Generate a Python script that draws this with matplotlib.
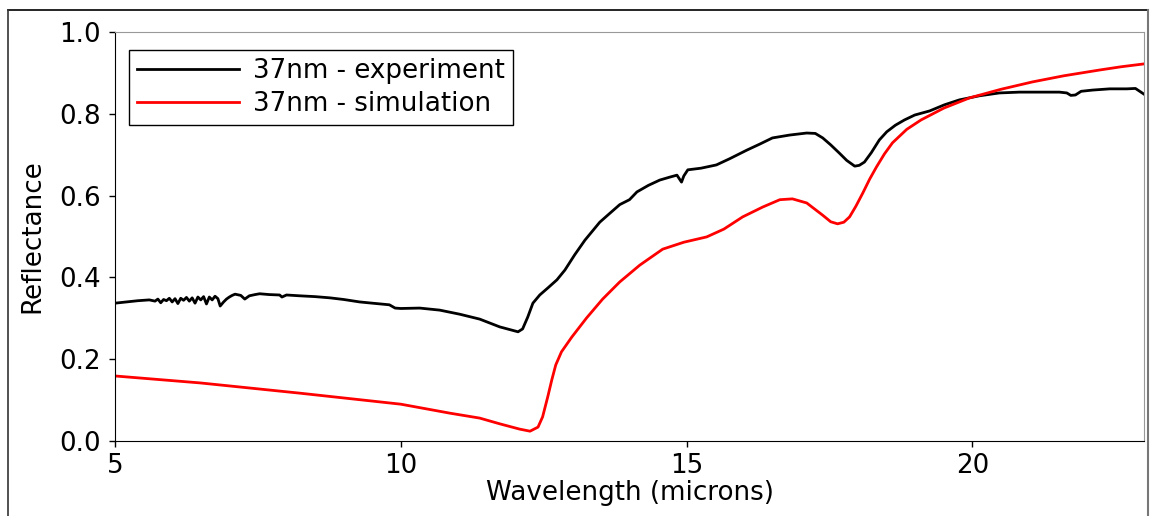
import matplotlib
matplotlib.use("Agg")
import matplotlib.pyplot as plt
from matplotlib.lines import Line2D

# Experiment (black)
exp_x = [5.0, 5.2, 5.4, 5.6, 5.7, 5.75, 5.8, 5.85, 5.9, 5.95, 6.0, 6.05, 6.1, 6.15, 6.2, 6.25, 6.3,
         6.35, 6.4, 6.45, 6.5, 6.55, 6.6, 6.65, 6.7, 6.75, 6.8, 6.84, 6.9, 6.95, 7.0, 7.05, 7.1, 7.2,
         7.27, 7.35, 7.45, 7.53, 7.7, 7.88, 7.92, 8.0, 8.23, 8.5, 8.76, 9.0, 9.28, 9.5, 9.8, 9.9,
         10.0, 10.33, 10.68, 11.03, 11.38, 11.73, 12.05, 12.13, 12.22, 12.31, 12.43, 12.57, 12.73,
         12.87, 13.04, 13.22, 13.48, 13.65, 13.83, 14.0, 14.13, 14.33, 14.53, 14.7, 14.83, 14.91,
         14.95, 15.02, 15.25, 15.52, 15.75, 16.05, 16.28, 16.5, 16.8, 17.1, 17.25, 17.38, 17.52,
         17.67, 17.8, 17.94, 18.02, 18.11, 18.23, 18.37, 18.5, 18.65, 18.81, 18.99, 19.25, 19.51,
         19.77, 20.12, 20.47, 20.82, 21.17, 21.52, 21.65, 21.72, 21.8, 21.9, 22.1, 22.4, 22.7, 22.85, 23.0]
exp_y = [0.337, 0.340, 0.343, 0.345, 0.342, 0.347, 0.338, 0.346, 0.343, 0.349, 0.340, 0.348, 0.336,
         0.349, 0.344, 0.351, 0.342, 0.350, 0.337, 0.352, 0.345, 0.353, 0.335, 0.352, 0.345, 0.354,
         0.348, 0.330, 0.340, 0.347, 0.352, 0.356, 0.359, 0.356, 0.347, 0.355, 0.358, 0.360, 0.358,
         0.357, 0.352, 0.357, 0.355, 0.353, 0.350, 0.346, 0.340, 0.337, 0.333, 0.325, 0.324, 0.325,
         0.320, 0.310, 0.298, 0.279, 0.267, 0.274, 0.303, 0.337, 0.357, 0.374, 0.394, 0.418, 0.455,
         0.491, 0.535, 0.556, 0.578, 0.590, 0.609, 0.625, 0.638, 0.645, 0.650, 0.633, 0.648, 0.663,
         0.667, 0.675, 0.690, 0.711, 0.726, 0.741, 0.748, 0.753, 0.752, 0.741, 0.724, 0.704, 0.686,
         0.672, 0.674, 0.682, 0.705, 0.736, 0.756, 0.772, 0.785, 0.797, 0.807, 0.822, 0.834, 0.844,
         0.851, 0.853, 0.853, 0.853, 0.851, 0.845, 0.846, 0.855, 0.858, 0.861, 0.861, 0.862, 0.848]

# Simulation (red)
sim_x = [5.0, 6.49, 8.23, 10.0, 10.86, 11.38, 11.73, 12.08, 12.26, 12.4, 12.48, 12.57, 12.64, 12.71,
         12.81, 12.99, 13.25, 13.53, 13.83, 14.18, 14.58, 14.95, 15.35, 15.65, 15.98, 16.33, 16.63,
         16.85, 17.1, 17.38, 17.52, 17.64, 17.75, 17.85, 17.96, 18.08, 18.2, 18.32, 18.46, 18.6,
         18.85, 19.1, 19.5, 19.95, 20.5, 21.05, 21.6, 22.22, 22.6, 23.0]
sim_y = [0.159, 0.142, 0.117, 0.090, 0.068, 0.056, 0.042, 0.029, 0.024, 0.034, 0.059, 0.108, 0.149,
         0.186, 0.218, 0.254, 0.301, 0.347, 0.389, 0.430, 0.469, 0.486, 0.499, 0.518, 0.548, 0.572,
         0.590, 0.592, 0.582, 0.552, 0.536, 0.531, 0.535, 0.548, 0.574, 0.606, 0.640, 0.670, 0.702,
         0.729, 0.762, 0.785, 0.814, 0.839, 0.860, 0.878, 0.893, 0.907, 0.915, 0.922]

labels = ["37nm - experiment", "37nm - simulation"]
x_ticks = [5, 10, 15, 20]
y_ticks = [0.0, 0.2, 0.4, 0.6, 0.8, 1.0]

W, H = 1153, 516
fig = plt.figure(figsize=(W / 100, H / 100), dpi=100)
ax = fig.add_axes([115 / W, 1 - 441 / H, (1144 - 115) / W, (441 - 32) / H])

ax.plot(exp_x, exp_y, color="black", lw=2, label=labels[0])
ax.plot(sim_x, sim_y, color="red", lw=2, label=labels[1])

ax.set_xlim(5, 23)
ax.set_ylim(0, 1.0)
ax.set_xticks(x_ticks)
ax.set_yticks(y_ticks)
ax.set_yticklabels([f"{v:.1f}" for v in y_ticks])
fs = 18.8
ax.tick_params(labelsize=fs, direction="out", length=4.3, width=1, top=False, right=False)
ax.tick_params(axis="y", pad=6)
ax.tick_params(axis="x", pad=4)
ax.set_xlabel("Wavelength (microns)", fontsize=fs, labelpad=1)
ax.set_ylabel("Reflectance", fontsize=fs, labelpad=10)
for s in ["top", "right"]:
    ax.spines[s].set_color("#999999")
for s in ["left", "bottom"]:
    ax.spines[s].set_color("black")

leg = ax.legend(loc="upper left", bbox_to_anchor=((129 - 115) / 1029, (441 - 50) / 409),
                borderaxespad=0, fontsize=fs, fancybox=False, edgecolor="black",
                handlelength=3.9, handletextpad=0.55, labelspacing=0.28, borderpad=0.3)
leg.get_frame().set_linewidth(1.0)
leg.get_frame().set_alpha(1)

# outer frame lines
fig.add_artist(Line2D([8 / W, 1148 / W], [1 - 10 / H, 1 - 10 / H], color="black", lw=1.2, transform=fig.transFigure))
fig.add_artist(Line2D([8 / W, 8 / W], [1 - 10 / H, 0], color="#333333", lw=1.2, transform=fig.transFigure))
fig.add_artist(Line2D([1148 / W, 1148 / W], [1 - 10 / H, 0], color="#777777", lw=1.5, transform=fig.transFigure))

fig.savefig("out.png", dpi=100)
